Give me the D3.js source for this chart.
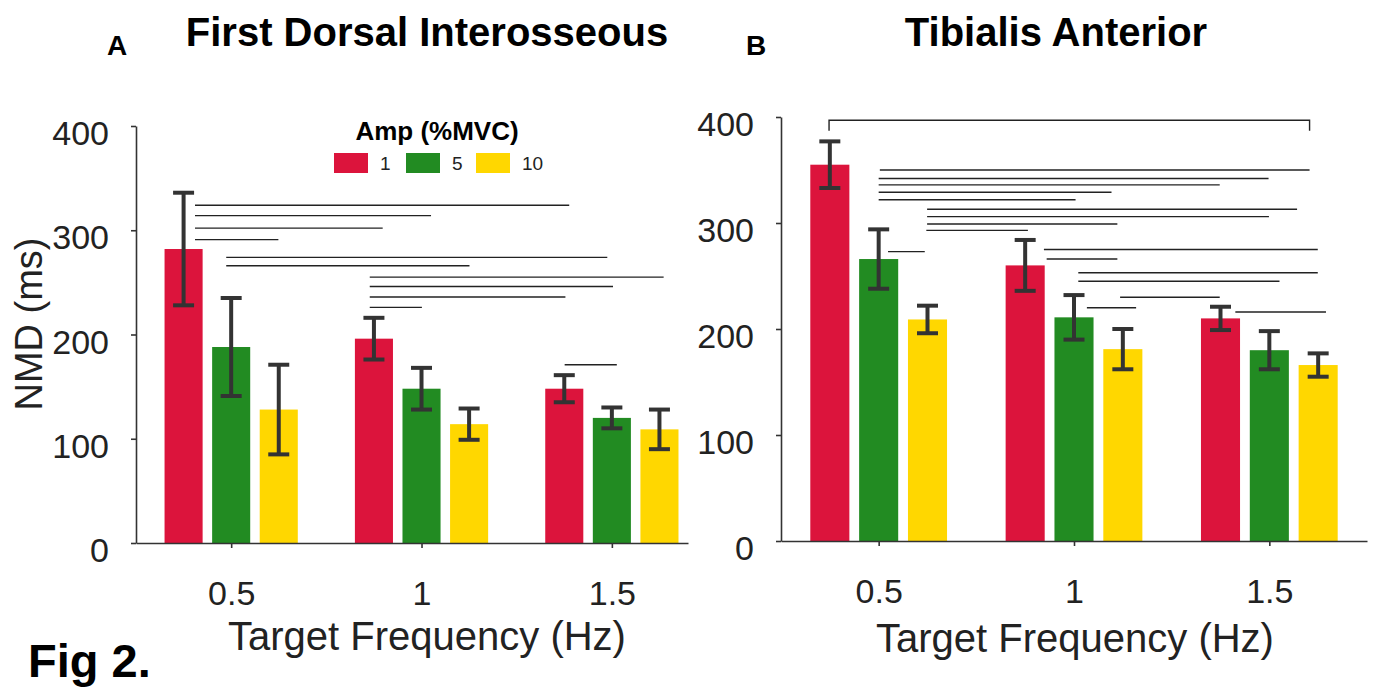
<!DOCTYPE html>
<html>
<head>
<meta charset="utf-8">
<script src="https://cdn.jsdelivr.net/npm/d3@7"></script>
<style>
    body { margin: 0; background: #fff; }
    svg { font-family: "Liberation Sans", Arial, sans-serif; }
</style>
</head>
<body>
<div id="chart"></div>
<script>
// DATA
// ----------------------------------------
const FREQUENCIES = [0.5, 1, 1.5];
const AMPLITUDES = ["1", "5", "10"];
const Y_TICKS = [0, 100, 200, 300, 400];

// mean NMD (ms), rows = frequency, columns = amplitude
const FDI_MEAN = [[282, 188, 128], [196, 148, 114], [148, 120, 109]];
const FDI_ERR = [[54, 47, 43], [20, 20, 15], [13, 10, 19]];
const TA_MEAN = [[355, 266, 209], [260, 211, 181], [210, 180, 166]];
const TA_ERR = [[22, 28, 13], [24, 21, 19], [11, 18, 11]];

// significance lines: [from (Hz axis), to (Hz axis), level (ms)]
const FDI_SIG = [
    [0.405, 1.388, 324], [0.405, 1.025, 314], [0.405, 0.898, 302], [0.405, 0.624, 291],
    [0.487, 1.488, 274], [0.487, 1.126, 266],
    [0.864, 1.636, 255], [0.864, 1.503, 246], [0.864, 1.378, 236], [0.864, 1.001, 226],
    [1.376, 1.513, 171]
];
const TA_SIG = [
    [0.503, 1.603, 350], [0.500, 1.498, 342], [0.500, 1.373, 336], [0.500, 1.096, 329], [0.500, 1.004, 322],
    [0.624, 1.571, 313], [0.624, 1.499, 306], [0.624, 1.111, 299], [0.622, 0.882, 293],
    [0.524, 0.618, 273],
    [0.923, 1.624, 275], [0.930, 1.111, 266],
    [1.011, 1.624, 253], [1.011, 1.526, 245],
    [1.118, 1.373, 230], [1.033, 1.159, 220], [1.413, 1.645, 216]
];
// bracket: [from, to, level, foot level]
const TA_BRACKET = [0.373, 1.603, 397, 387];

// STYLE
// ----------------------------------------
const COLORS = ["#DC143C", "#228B22", "#FFD700"];
const AXIS_COLOR = "#333";
const WIDTH = 1378;
const HEIGHT = 689;

const svg = d3.select("#chart").append("svg")
    .attr("width", WIDTH)
    .attr("height", HEIGHT);

// bars inside a frequency group, in Hz units
const ampScale = d3.scaleBand()
    .domain(AMPLITUDES)
    .range([-0.1875, 0.1875])
    .paddingInner(0.2)
    .paddingOuter(0.1);

function drawPanel(opt) {
    const x = d3.scaleLinear().domain(opt.xDomain).range([opt.left, opt.right]);
    const y = d3.scaleLinear().domain([0, 400]).range([opt.bottom, opt.top]);
    const g = svg.append("g");

    // bars
    FREQUENCIES.forEach((f, fi) => {
        AMPLITUDES.forEach((a, ai) => {
            const x0 = x(f + ampScale(a));
            const x1 = x(f + ampScale(a) + ampScale.bandwidth());
            g.append("rect")
                .attr("x", x0)
                .attr("width", x1 - x0)
                .attr("y", y(opt.mean[fi][ai]))
                .attr("height", y(0) - y(opt.mean[fi][ai]))
                .attr("fill", COLORS[ai]);
        });
    });

    // error bars
    FREQUENCIES.forEach((f, fi) => {
        AMPLITUDES.forEach((a, ai) => {
            const cx = x(f + ampScale(a) + ampScale.bandwidth() / 2);
            const hi = y(opt.mean[fi][ai] + opt.err[fi][ai]);
            const lo = y(opt.mean[fi][ai] - opt.err[fi][ai]);
            const eb = g.append("g").attr("stroke", "#333").attr("stroke-width", 4);
            eb.append("line").attr("x1", cx).attr("x2", cx).attr("y1", hi).attr("y2", lo);
            eb.append("line").attr("x1", cx - 10.5).attr("x2", cx + 10.5).attr("y1", hi).attr("y2", hi);
            eb.append("line").attr("x1", cx - 10.5).attr("x2", cx + 10.5).attr("y1", lo).attr("y2", lo);
        });
    });

    // significance lines
    g.selectAll(".sig")
        .data(opt.sig)
        .enter().append("line")
        .attr("x1", d => x(d[0]))
        .attr("x2", d => x(d[1]))
        .attr("y1", d => y(d[2]))
        .attr("y2", d => y(d[2]))
        .attr("stroke", "#222")
        .attr("stroke-width", 1.4);

    if (opt.bracket) {
        const b = opt.bracket;
        g.append("path")
            .attr("d", `M${x(b[0])},${y(b[3])}V${y(b[2])}H${x(b[1])}V${y(b[3])}`)
            .attr("fill", "none")
            .attr("stroke", "#222")
            .attr("stroke-width", 1.4);
    }

    // axes
    const yAxis = g.append("g")
        .attr("transform", `translate(${opt.left},0)`)
        .call(d3.axisLeft(y).tickValues(Y_TICKS).tickSize(5).tickSizeOuter(0).tickPadding(22));
    const xAxis = g.append("g")
        .attr("transform", `translate(0,${opt.bottom})`)
        .call(d3.axisBottom(x).tickValues(FREQUENCIES).tickFormat(d => d).tickSize(5).tickSizeOuter(0).tickPadding(33));

    [yAxis, xAxis].forEach(ax => {
        ax.select(".domain").attr("stroke", AXIS_COLOR).attr("stroke-width", 1.6);
        ax.selectAll(".tick line").attr("stroke", AXIS_COLOR).attr("stroke-width", 1.6);
        ax.selectAll(".tick text")
            .attr("fill", "#222")
            .style("font-size", "34px")
            .style("font-family", "'Liberation Sans', Arial, sans-serif");
    });
    yAxis.selectAll(".tick text").attr("dy", "0.55em");

    // axis title
    g.append("text")
        .attr("x", opt.xLabelX)
        .attr("y", opt.xLabelY)
        .attr("text-anchor", "middle")
        .style("font-size", "40px")
        .attr("fill", "#222")
        .text("Target Frequency (Hz)");

    // panel title and letter
    g.append("text")
        .attr("x", opt.titleX)
        .attr("y", 46)
        .attr("text-anchor", "middle")
        .style("font-size", "40px")
        .style("font-weight", "bold")
        .text(opt.title);
    g.append("text")
        .attr("x", opt.letterX)
        .attr("y", 55)
        .attr("text-anchor", "middle")
        .style("font-size", "28px")
        .style("font-weight", "bold")
        .text(opt.letter);
}

drawPanel({
    left: 136, right: 688, top: 126, bottom: 543, xDomain: [0.25, 1.7],
    mean: FDI_MEAN, err: FDI_ERR, sig: FDI_SIG,
    title: "First Dorsal Interosseous", titleX: 427, letter: "A", letterX: 117,
    xLabelX: 427, xLabelY: 650
});
drawPanel({
    left: 781, right: 1367, top: 117, bottom: 541, xDomain: [0.25, 1.75],
    mean: TA_MEAN, err: TA_ERR, sig: TA_SIG, bracket: TA_BRACKET,
    title: "Tibialis Anterior", titleX: 1056, letter: "B", letterX: 756,
    xLabelX: 1075, xLabelY: 652
});

// y axis title (panel A only)
svg.append("text")
    .attr("transform", "translate(42,324) rotate(-90)")
    .attr("text-anchor", "middle")
    .style("font-size", "38px")
    .attr("fill", "#222")
    .text("NMD (ms)");

// legend
const legend = svg.append("g").attr("transform", "translate(437,0)");
legend.append("text")
    .attr("y", 140)
    .attr("text-anchor", "middle")
    .style("font-size", "26px")
    .style("font-weight", "bold")
    .text("Amp (%MVC)");
const legendX = [-103, -31, 39];
AMPLITUDES.forEach((a, i) => {
    legend.append("rect")
        .attr("x", legendX[i])
        .attr("y", 153)
        .attr("width", 34)
        .attr("height", 20)
        .attr("fill", COLORS[i]);
    legend.append("text")
        .attr("x", legendX[i] + 46)
        .attr("y", 170)
        .style("font-size", "19px")
        .attr("fill", "#222")
        .text(a);
});

// figure label
svg.append("text")
    .attr("x", 28)
    .attr("y", 677)
    .style("font-size", "47px")
    .style("font-weight", "bold")
    .text("Fig 2.");
</script>
</body>
</html>
